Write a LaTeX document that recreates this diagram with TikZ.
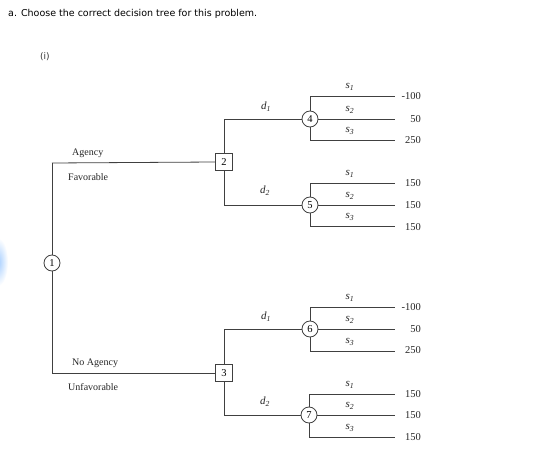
\documentclass[tikz,border=0pt]{standalone}
\usepackage{fontspec}
\setmainfont{Liberation Serif}
\newfontfamily\uifont{DejaVu Sans}
\begin{document}
\begin{tikzpicture}[x=1pt,y=-1pt,
  br/.style={draw=black!75,line width=0.8pt},
  chance/.style={circle,draw=black!75,line width=0.8pt,fill=white,minimum size=16pt,inner sep=0pt,font=\fontsize{10.5}{10}\selectfont},
  decis/.style={rectangle,draw=black!75,line width=0.8pt,fill=white,minimum size=17pt,inner sep=0pt,font=\fontsize{10.5}{10}\selectfont},
  lab/.style={font=\fontsize{10}{10}\selectfont,inner sep=0pt,text=black!85},
  pay/.style={font=\fontsize{10.5}{10}\selectfont,inner sep=0pt,anchor=east,text=black!85},
  slab/.style={font=\fontsize{11}{10}\selectfont\itshape,inner sep=0pt,text=black!85},
]
\useasboundingbox (0,0) rectangle (550,455);
\fill[white] (0,0) rectangle (550,455);
\begin{scope}
\clip (0,0) rectangle (550,455);
\shade[inner color=cyan!45!blue!35, outer color=white] (-2,262) ellipse (10 and 24);
\end{scope}
\node[anchor=west,inner sep=0pt,font=\uifont\fontsize{9.5}{10}\selectfont] (title) at (8,14) {a. Choose the correct decision tree for this problem.};
\node[anchor=west,inner sep=0pt,font=\uifont\fontsize{9}{10}\selectfont,text=black!80] (sub) at (40,57) {(i)};

% corner coordinates
\coordinate (c1t) at (52,163);
\coordinate (c1b) at (52,373);
\coordinate (c2t) at (224,119);
\coordinate (c2b) at (224,205);
\coordinate (c3t) at (224,329);
\coordinate (c3b) at (224,415);

\node[decis] (n2) at (224,162) {2};
\node[decis] (n3) at (224,373) {3};
\node[chance] (n4) at (310,119) {4};
\node[chance] (n5) at (310,205) {5};
\node[chance] (n6) at (310,329) {6};
\node[chance] (n7) at (309,415) {7};

% root
\draw[br] (c1t) -- (c1b);
\node[chance] (n1) at (52,263) {1};
\draw[br] (c1t) -- (n2.west);
\draw[br] (c1b) -- (n3.west);

% decision branches
\draw[br] (n2.north) -- (c2t) -- (n4.west);
\draw[br] (n2.south) -- (c2b) -- (n5.west);
\draw[br] (n3.north) -- (c3t) -- (n6.west);
\draw[br] (n3.south) -- (c3b) -- (n7.west);

% branch labels
\node[lab,anchor=west] (ag) at (72,153) {Agency};
\node[lab,anchor=west] (fav) at (68,177) {Favorable};
\node[lab,anchor=west] (nag) at (72,363) {No Agency};
\node[lab,anchor=west] (unf) at (68,387) {Unfavorable};
\node[slab] (d14) at (266,107) {d\textsubscript{1}};
\node[slab] (d25) at (265,191) {d\textsubscript{2}};
\node[slab] (d16) at (266,317) {d\textsubscript{1}};
\node[slab] (d27) at (265,402) {d\textsubscript{2}};

% chance branches
\foreach \n/\cy/\ya/\yc in {n4/119/96/140, n5/205/183/226, n6/329/307/351, n7/415/394/437}{
  \coordinate (\n a) at (\n.center |- 0,\ya);
  \coordinate (\n c) at (\n.center |- 0,\yc);
  \coordinate (\n ea) at (395,\ya);
  \coordinate (\n eb) at (395,\cy);
  \coordinate (\n ec) at (395,\yc);
  \draw[br] (\n.north) -- (\n a) -- (\n ea);
  \draw[br] (\n.east) -- (\n eb);
  \draw[br] (\n.south) -- (\n c) -- (\n ec);
  \node[slab] (\n s1) at (350,\ya-9) {s\textsubscript{1}};
  \node[slab] (\n s2) at (350,\cy-9) {s\textsubscript{2}};
  \node[slab] (\n s3) at (350,\yc-9) {s\textsubscript{3}};
}

% payoffs
\node[pay] (p4a) at (421,96) {-100};
\node[pay] (p4b) at (421,119) {50};
\node[pay] (p4c) at (421,140) {250};
\node[pay] (p5a) at (421,183) {150};
\node[pay] (p5b) at (421,205) {150};
\node[pay] (p5c) at (421,227) {150};
\node[pay] (p6a) at (421,307) {-100};
\node[pay] (p6b) at (421,329) {50};
\node[pay] (p6c) at (421,350) {250};
\node[pay] (p7a) at (421,394) {150};
\node[pay] (p7b) at (421,415) {150};
\node[pay] (p7c) at (421,437) {150};
\end{tikzpicture}
\end{document}
